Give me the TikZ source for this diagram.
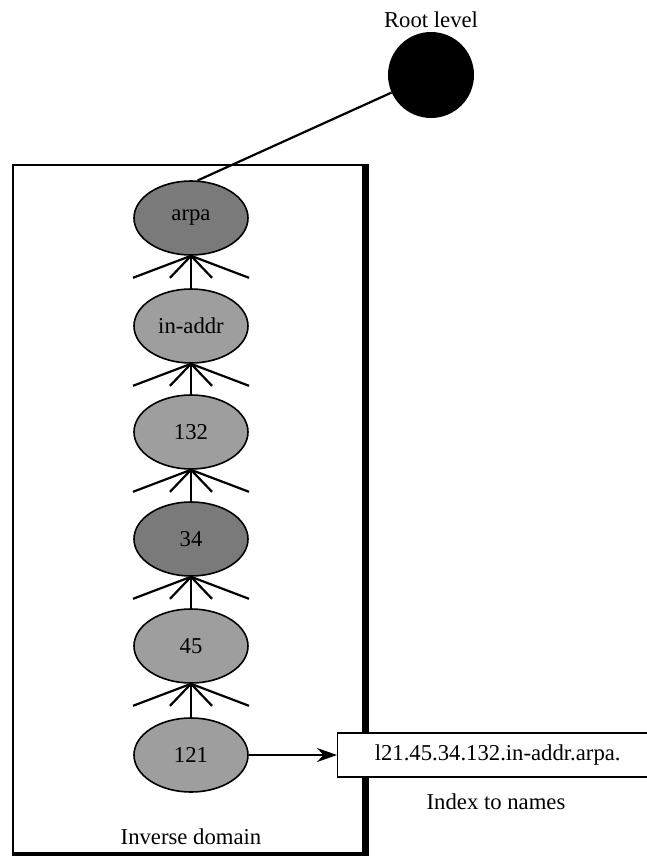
\documentclass[tikz,border=0pt]{standalone}
\usepackage{fontspec}
\setmainfont{Liberation Serif}
\usetikzlibrary{shapes.geometric,arrows.meta}
\begin{document}
\begin{tikzpicture}[x=1pt,y=-1pt,
  lbl/.style={font=\fontsize{22.7}{27}\selectfont, inner sep=0pt},
  dom/.style={ellipse, draw, line width=1.6pt, minimum width=114pt, minimum height=74pt, inner sep=0pt, font=\fontsize{22.7}{27}\selectfont},
  darkdom/.style={dom, fill=black!52},
  lightdom/.style={dom, fill=black!38},
  conn/.style={line width=2.2pt},
  dombox/.style={draw, line width=1.4pt, minimum width=350pt, minimum height=688pt, inner sep=0pt},
]
\useasboundingbox (0,0) rectangle (647,856);
\clip (0,0) rectangle (647,856);
\fill[white] (0,0) rectangle (647,856);

% frame of the inverse domain
\node[dombox] (frame) at (188,509) {};
\draw[line width=5pt] ([xshift=2.5pt]frame.north east) -- ([xshift=2.5pt]frame.south east);
\draw[line width=4pt] (frame.south west) -- ([xshift=5pt]frame.south east);
\node[lbl] (invlbl) at (191,837) {Inverse domain};

% root
\node[circle, fill=black, minimum size=86pt, inner sep=0pt] (root) at (431,75) {};
\node[lbl] (rootlbl) at (431,20) {Root level};

% domains
\node[darkdom]  (arpa)  at (191,218) {arpa};
\node[lightdom] (inaddr) at (191,326) {in-addr};
\node[lightdom] (d132)  at (191,432) {132};
\node[darkdom]  (d34)   at (191,539) {34};
\node[lightdom] (d45)   at (191,646) {45};
\node[lightdom] (d121)  at (191,755) {121};

\draw[conn] (root.204) -- (arpa.80);

\foreach \a/\b in {arpa/inaddr, inaddr/d132, d132/d34, d34/d45, d45/d121}{
  \draw[conn] (\a.south) -- (\b.north);
  \foreach \dx in {-58,-21,21,58}{
    \draw[conn] (\a.south) -- ++(\dx,22);
  }
}

% index box
\node[draw, fill=white, line width=1.4pt, minimum width=320pt, minimum height=44pt, anchor=west, lbl] (idx) at (337,755) {l21.45.34.132.in-addr.arpa.};
\draw[conn, -{Stealth[length=20pt, width=14pt]}] (d121.east) -- (idx.west);
\node[lbl] (idxlbl) at (496,802) {Index to names};
\end{tikzpicture}
\end{document}
